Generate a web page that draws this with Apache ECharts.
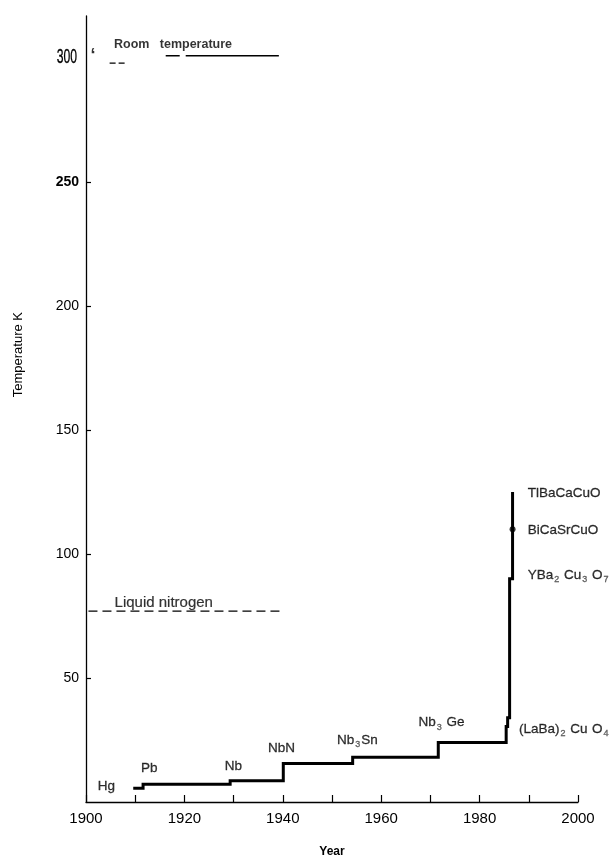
<!DOCTYPE html>
<html><head><meta charset="utf-8">
<script src="https://cdn.jsdelivr.net/npm/echarts@6/dist/echarts.min.js"></script>
<style>html,body{margin:0;padding:0;background:#fff}#c{width:614px;height:860px}</style>
</head><body><div id="c"></div>
<script>
// record Tc step line (year, K)
const stepYears = [1909.6, 1911.6, 1929.3, 1940.1, 1954.2, 1971.6, 1985.4, 1985.7, 1986.1, 1986.7, 1986.7, 1986.7];
const stepTemps = [5.5, 7.2, 8.6, 15.5, 18, 24, 30.5, 34, 90, 92, 110, 125];
const dotTemp = 110;
// reference lines
const nitrogenYears = [1900.5, 1939.4];
const nitrogenTemp = 77;
const roomDashYears = [1904.8, 1908.0];
const roomDashTemp = 298;
const roomYears = [1916.2, 1939.2];
const roomTemp = 301;
// annotations
const labelNames = ['Hg', 'Pb', 'Nb', 'NbN', 'Nb{s|3}Sn', 'Nb{s|3} Ge', '(LaBa){s|2} Cu{s| }O{s|4}', 'YBa{s|2} Cu{s|3} O{s|7}', 'BiCaSrCuO', 'TlBaCaCuO'];
const labelYears = [1902.4, 1911.2, 1928.2, 1937.0, 1951.0, 1967.6, 1988.0, 1989.8, 1989.8, 1989.8];
const labelTemps = [6.5, 13.8, 14.4, 21.8, 25, 32, 29.5, 91.5, 109.7, 124.6];
const nitrogenLabel = 'Liquid nitrogen';
const nitrogenLabelYear = 1905.8, nitrogenLabelTemp = 80.2;
const roomLabels = ['Room', 'temperature'];
const roomLabelYears = [1905.7, 1915.0];
const roomLabelTemp = 305.5;
const roomMarkYear = 1900.9, roomMarkTemp = 301;
const yTicks = [50, 100, 150, 200, 250, 300];
const xMin = 1900, xMax = 2000, yMin = 0, yMax = 317;

const FONT = "'Liberation Sans', Arial, sans-serif";
const chart = echarts.init(document.getElementById('c'));

// build step path corners from the data arrays
const pathData = [];
stepYears.forEach((y, i) => {
  pathData.push([y, stepTemps[i]]);
  if (i < stepYears.length - 1) pathData.push([stepYears[i + 1], stepTemps[i]]);
});
const dotIndex = stepTemps.indexOf(dotTemp);

const richText = {
  s: { fontSize: 9, color: '#555', fontFamily: FONT, padding: [9, 1, 0, 1] }
};

chart.setOption({
  animation: false,
  backgroundColor: '#fff',
  grid: { left: 86, right: 36, top: 16, bottom: 58, outerBoundsMode: 'none' },
  xAxis: {
    type: 'value', min: xMin, max: xMax, interval: 10,
    axisLine: { show: true, lineStyle: { color: '#000', width: 1.3 } },
    axisTick: { show: true, inside: true, length: 7, lineStyle: { color: '#000', width: 1.2 } },
    axisLabel: {
      color: '#000', fontSize: 15, fontFamily: FONT, margin: 9,
      formatter: v => (v % 20 === 0 ? String(v) : '')
    },
    splitLine: { show: false },
    name: 'Year', nameLocation: 'middle', nameGap: 44,
    nameTextStyle: { color: '#000', fontSize: 12, fontWeight: 'bold', fontFamily: FONT }
  },
  yAxis: {
    type: 'value', min: yMin, max: yMax,
    axisLine: { show: true, lineStyle: { color: '#000', width: 1.3 } },
    axisTick: { show: true, inside: true, length: 5, customValues: yTicks.filter(v => v !== 300), lineStyle: { color: '#000', width: 1.2 } },
    axisLabel: {
      customValues: yTicks, color: '#000', fontSize: 14, fontFamily: FONT, margin: 7,
      formatter: v => v === 300 ? '' : (v === 250 ? '{b|250}' : String(v)),
      rich: {
        b: { fontSize: 14, fontWeight: 'bold', fontFamily: FONT, color: '#000' }
      }
    },
    splitLine: { show: false }
  },
  series: [
    {
      type: 'lines', coordinateSystem: 'cartesian2d', polyline: true, silent: true,
      data: [{ coords: pathData }],
      lineStyle: { color: '#000', width: 3, opacity: 1, curveness: 0 }, z: 5
    },
    {
      type: 'scatter', symbol: 'circle', symbolSize: 6, silent: true, z: 6,
      itemStyle: { color: '#000' },
      data: [[stepYears[dotIndex], stepTemps[dotIndex]]]
    },
    {
      type: 'line', data: nitrogenYears.map(y => [y, nitrogenTemp]), symbol: 'none',
      lineStyle: { color: '#000', width: 1.3, type: [9, 5] }
    },
    {
      type: 'line', data: roomDashYears.map(y => [y, roomDashTemp]), symbol: 'none',
      lineStyle: { color: '#000', width: 1.3, type: [6, 3] }
    },
    {
      type: 'line', data: roomYears.map(y => [y, roomTemp]), symbol: 'none',
      lineStyle: { color: '#000', width: 1.5, type: [14, 6, 400, 0] }
    },
    {
      type: 'scatter', symbolSize: 0, silent: true,
      data: labelNames.map((n, i) => ({ value: [labelYears[i], labelTemps[i]], name: n })),
      label: {
        show: true, position: 'right', distance: 0, formatter: p => p.name,
        color: '#000', fontSize: 13.5, fontFamily: FONT, rich: richText,
        textBorderColor: '#000', textBorderWidth: 0.3
      }
    },
    {
      type: 'scatter', symbolSize: 0, silent: true,
      data: [{ value: [nitrogenLabelYear, nitrogenLabelTemp], name: nitrogenLabel }],
      label: {
        show: true, position: 'right', distance: 0, formatter: p => p.name,
        color: '#000', fontSize: 15, fontFamily: FONT,
        textBorderColor: '#000', textBorderWidth: 0.2
      }
    },
    {
      type: 'scatter', symbolSize: 0, silent: true,
      data: roomLabels.map((n, i) => ({ value: [roomLabelYears[i], roomLabelTemp], name: n })),
      label: {
        show: true, position: 'right', distance: 0, formatter: p => p.name,
        color: '#000', fontSize: 12.5, fontWeight: 'bold', fontFamily: FONT
      }
    },
    {
      type: 'scatter', symbolSize: 0, silent: true,
      data: [{ value: [roomMarkYear, roomMarkTemp], name: '‘' }],
      label: {
        show: true, position: 'right', distance: 0, formatter: p => p.name,
        color: '#000', fontSize: 18, fontWeight: 'bold', fontFamily: FONT
      }
    }
  ]
});

// condensed "300" label and rotated axis title, placed via the axis scale
const p300 = chart.convertToPixel({ gridIndex: 0 }, [xMin, 300]);
chart.setOption({
  graphic: [
    {
      type: 'text', x: p300[0] - 9, y: p300[1] - 1, scaleX: 0.58,
      style: { text: '300', align: 'right', verticalAlign: 'middle', fill: '#000', font: '21px ' + FONT, stroke: '#000', lineWidth: 0.3 }
    },
    {
      type: 'text', x: 12, y: 312, rotation: Math.PI / 2, originX: 0, originY: 0,
      style: { text: 'Temperature K', fill: '#000', font: '13px ' + FONT, align: 'right', verticalAlign: 'top' }
    }
  ]
});
</script></body></html>
